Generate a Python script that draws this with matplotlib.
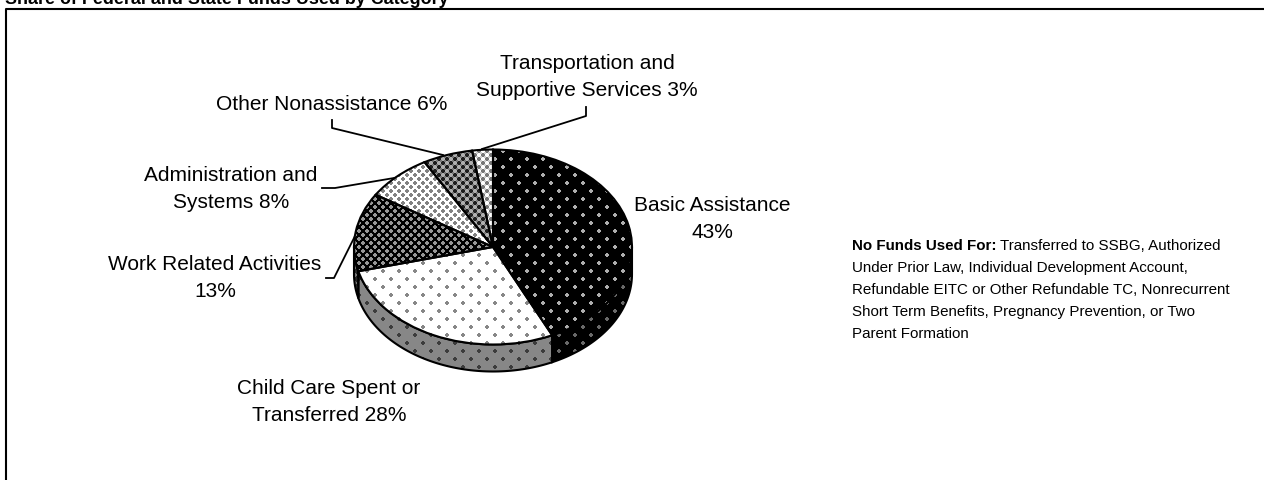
#!/usr/bin/python3

import matplotlib
matplotlib.use("Agg")
import matplotlib.pyplot as plt
import numpy as np
from matplotlib.patches import Polygon

W, H = 1264, 481

categories = ["Basic Assistance", "Child Care Spent or Transferred", "Work Related Activities",
              "Administration and Systems", "Other Nonassistance", "Transportation and Supportive Services"]
shares = [43.0, 28.0, 13.0, 7.8, 5.8, 2.4]

title = "Share of Federal and State Funds Used by Category"
note_head = "No Funds Used For:"
note_lines = [
    " Transferred to SSBG, Authorized",
    "Under Prior Law, Individual Development Account,",
    "Refundable EITC or Other Refundable TC, Nonrecurrent",
    "Short Term Benefits, Pregnancy Prevention, or Two",
    "Parent Formation",
]

plt.rcParams['font.family'] = ['Liberation Sans', 'DejaVu Sans']


def texture(base, dot, step, light=None):
    # staggered dot screen over the whole page, as in the old spreadsheet fills
    yy, xx = np.mgrid[0:H, 0:W]
    sx, sy = step, step / 2
    v = (yy + 0.5 - 296) / sy
    rows = np.round(v)
    u = (xx + 0.5 - 535) / sx + (rows % 2) * 0.5
    dy = (v - rows) * sy
    du = (u - np.round(u)) * sx
    img = np.full((H, W), float(base))
    if light is not None:
        u2 = u + 0.5
        img[np.hypot((u2 - np.round(u2)) * sx, dy) < 1.6] = light
    img[np.hypot(du, dy) < (2.0 if step > 8 else 1.6)] = dot
    return np.dstack([img, img, img]).astype(np.uint8)


top_tex = [texture(0, 175, 16), texture(255, 135, 16), texture(0, 150, 8),
           texture(255, 130, 8), texture(120, 30, 8, 175), texture(205, 120, 8, 255)]
side_tex = [texture(0, 105, 16), texture(135, 60, 16), texture(40, 120, 8),
            texture(255, 130, 8), texture(120, 30, 8), texture(205, 120, 8)]

fig = plt.figure(figsize=(W / 100, H / 100), dpi=100)

# page layer in pixel coordinates, y going down
bg = fig.add_axes([0, 0, 1, 1])
bg.set_xlim(0, W)
bg.set_ylim(H, 0)
bg.axis("off")
bg.plot([6, 6, W], [H, 9.5, 9.5], color="black", lw=1.5, clip_on=False)
bg.text(5, 3.5, title, fontsize=12.9, fontweight="bold", va="baseline", ha="left")

# pie on a full page axes, scaled so that the unit circle is the top ellipse
cx, cy, rx, ry, depth = 493, 248, 139, 97.5, 27
ax = fig.add_axes([0, 0, 1, 1])
page = ((0 - cx) / rx, (W - cx) / rx, (cy - H) / ry, cy / ry)

wedges, _ = ax.pie(shares, startangle=90, counterclock=False, radius=1)

# side wall: only the part of each slice that faces the viewer
drop = depth / ry
ends = np.cumsum([0] + shares) / sum(shares) * 360
for i in range(len(shares)):
    a0, a1 = max(ends[i], 90), min(ends[i + 1], 270)
    if a1 <= a0:
        continue
    t = np.radians(np.linspace(a0, a1, 80))
    upper = np.column_stack([np.sin(t), np.cos(t)])
    lower = (upper - [0, drop])[::-1]
    wall = Polygon(np.vstack([upper, lower]), closed=True, fc="none", ec="black", lw=1.5, zorder=3)
    ax.add_patch(wall)
    im = ax.imshow(side_tex[i], extent=page, origin="upper", interpolation="nearest", zorder=2)
    im.set_clip_path(wall)

# top face
for w, tex in zip(wedges, top_tex):
    w.set(facecolor="none", edgecolor="black", linewidth=1.5, zorder=5)
    im = ax.imshow(tex, extent=page, origin="upper", interpolation="nearest", zorder=4)
    im.set_clip_path(w)

ax.set_aspect("auto")
ax.set_xlim(page[0], page[1])
ax.set_ylim(page[2], page[3])
ax.axis("off")

# slice labels and leader lines
fs = 15
ls = 1.5
bg.text(712, 219, "Basic Assistance\n43%", fontsize=fs, ha="center", va="center", linespacing=ls)
bg.text(329, 402, "Child Care Spent or\nTransferred 28%", fontsize=fs, ha="center", va="center", linespacing=ls)
bg.text(215, 278, "Work Related Activities\n13%", fontsize=fs, ha="center", va="center", linespacing=ls)
bg.text(231, 189, "Administration and\nSystems 8%", fontsize=fs, ha="center", va="center", linespacing=ls)
bg.text(332, 104, "Other Nonassistance 6%", fontsize=fs, ha="center", va="center")
bg.text(587, 77, "Transportation and\nSupportive Services 3%", fontsize=fs, ha="center", va="center", linespacing=ls)

bg.plot([326, 334, 355], [279, 279, 237], color="black", lw=1.3)
bg.plot([322, 335, 400], [189, 189, 178], color="black", lw=1.3)
bg.plot([332, 332, 443], [121, 129, 156], color="black", lw=1.3)
bg.plot([586, 586, 482], [108, 117, 150], color="black", lw=1.3)

# note on the right
note_fs = 10.9
head = bg.text(852, 246, note_head, fontsize=note_fs, fontweight="bold", va="center", ha="left")
fig.canvas.draw()
bb = head.get_window_extent()
bg.text(bb.x1, 246, note_lines[0], fontsize=note_fs, va="center", ha="left")
for i, line in enumerate(note_lines[1:]):
    bg.text(852, 246 + 22 * (i + 1), line, fontsize=note_fs, va="center", ha="left")

fig.savefig("out.png", dpi=100)
